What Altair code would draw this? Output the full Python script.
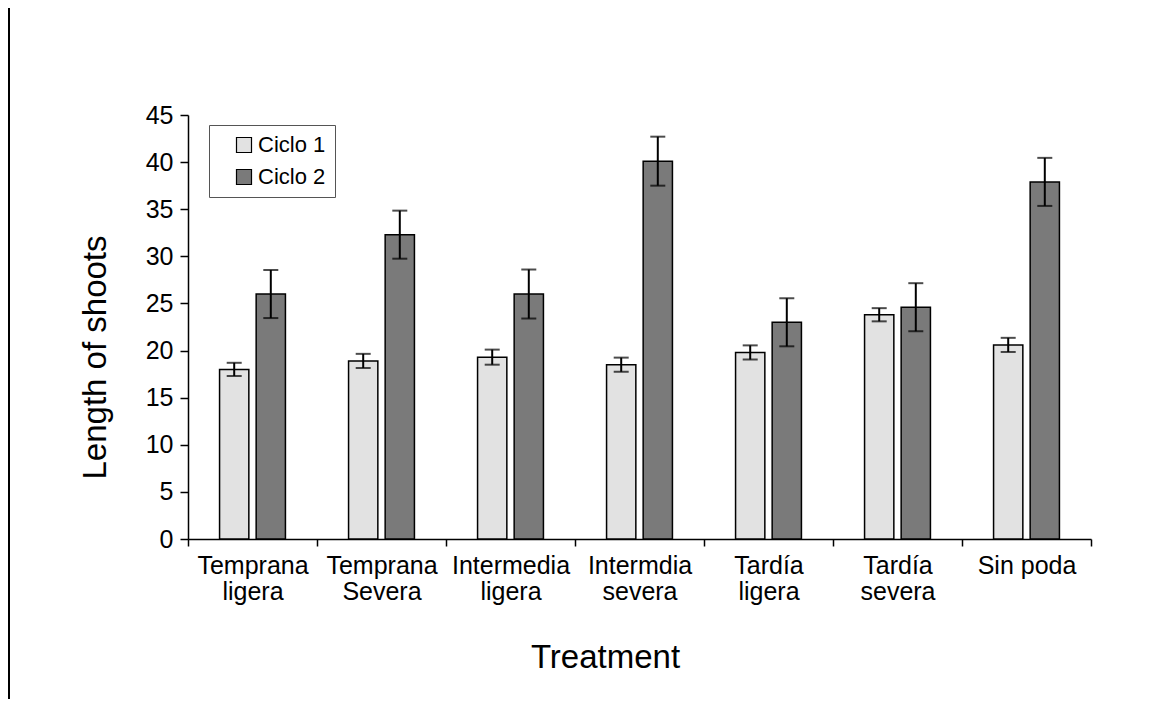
import altair as alt
import pandas as pd

treatments = ["Temprana|ligera", "Temprana|Severa", "Intermedia|ligera", "Intermdia|severa",
              "Tardía|ligera", "Tardía|severa", "Sin poda"]
series = ["Ciclo 1", "Ciclo 2"]
ciclo1 = [18.0, 18.9, 19.3, 18.5, 19.8, 23.8, 20.6]
ciclo1_err = [0.7, 0.75, 0.8, 0.75, 0.75, 0.7, 0.75]
ciclo2 = [26.0, 32.3, 26.0, 40.1, 23.0, 24.6, 37.9]
ciclo2_err = [2.55, 2.55, 2.6, 2.6, 2.55, 2.55, 2.55]
y_ticks = [0, 5, 10, 15, 20, 25, 30, 35, 40, 45]

rows = []
for name, vals, errs in [("Ciclo 1", ciclo1, ciclo1_err), ("Ciclo 2", ciclo2, ciclo2_err)]:
    for t, v, e in zip(treatments, vals, errs):
        rows.append({"treatment": t, "serie": name, "value": v, "lo": v - e, "hi": v + e})
df = pd.DataFrame(rows)

FONT = "Liberation Sans"
W, H = 903, 424

x_enc = alt.X("treatment:N", sort=treatments,
              scale=alt.Scale(paddingInner=0, paddingOuter=0),
              axis=alt.Axis(title="Treatment", labelAngle=0, labelExpr="split(datum.label, '|')",
                            tickBand="extent", tickSize=7, labelPadding=7, labelFontSize=25,
                            labelLineHeight=26, titleFontSize=33,
                            titleX=417, titleY=118, titleBaseline="middle", titleAlign="center",
                            titleFontWeight="normal", labelLimit=200))
xo_enc = alt.XOffset("serie:N", sort=series,
                     scale=alt.Scale(paddingInner=0.2, paddingOuter=0.8625))
y_axis = alt.Axis(title="Length of shoots", values=y_ticks, grid=False, tickSize=8,
                  labelFontSize=25, labelPadding=7, titleFontSize=33,
                  titleX=-93, titleY=242, titleAngle=270, titleBaseline="middle",
                  titleAlign="center", titleFontWeight="normal")
y_scale = alt.Scale(domain=[0, 45], nice=False)

base = alt.Chart(df)

bars = base.mark_bar(stroke="black", strokeWidth=1.5).encode(
    x=x_enc,
    xOffset=xo_enc,
    y=alt.Y("value:Q", scale=y_scale, axis=y_axis),
    fill=alt.Fill("serie:N", sort=series,
                  scale=alt.Scale(domain=series, range=["#e2e2e2", "#7a7a7a"]),
                  legend=alt.Legend(title=None, orient="none", legendX=21, legendY=10,
                                    symbolType="square", symbolSize=225,
                                    symbolStrokeColor="black", symbolStrokeWidth=1.2,
                                    labelFontSize=22, labelFont=FONT, labelColor="black",
                                    fillColor="white", strokeColor="#555555",
                                    padding=9, rowPadding=10, symbolOffset=15,
                                    labelOffset=3)),
)

err_rule = base.mark_rule(color="black", strokeWidth=2).encode(
    x=x_enc, xOffset=xo_enc,
    y=alt.Y("lo:Q", scale=y_scale, axis=y_axis),
    y2="hi:Q",
)
cap_hi = base.mark_tick(color="black", size=15, thickness=2).encode(
    x=x_enc, xOffset=xo_enc,
    y=alt.Y("hi:Q", scale=y_scale, axis=y_axis),
)
cap_lo = base.mark_tick(color="black", size=15, thickness=2).encode(
    x=x_enc, xOffset=xo_enc,
    y=alt.Y("lo:Q", scale=y_scale, axis=y_axis),
)

edge = alt.Chart(pd.DataFrame({"a": [0]})).mark_rule(color="black", strokeWidth=2).encode(
    x=alt.value(-179), y=alt.value(-107), y2=alt.value(H + 160),
)

chart = alt.layer(bars, err_rule, cap_hi, cap_lo, edge).properties(
    width=W, height=H,
    autosize=alt.AutoSizeParams(type="none"),
    padding={"left": 180, "top": 107, "right": 72, "bottom": 160},
    background="white",
).configure_view(stroke=None).configure_axis(
    labelFont=FONT, titleFont=FONT, labelColor="black", titleColor="black",
    titleFontWeight="normal", domainColor="black", domainWidth=1.5,
    tickColor="black", tickWidth=1.5,
)

chart.save("out.html", embed_options={"renderer": "svg", "actions": False})
